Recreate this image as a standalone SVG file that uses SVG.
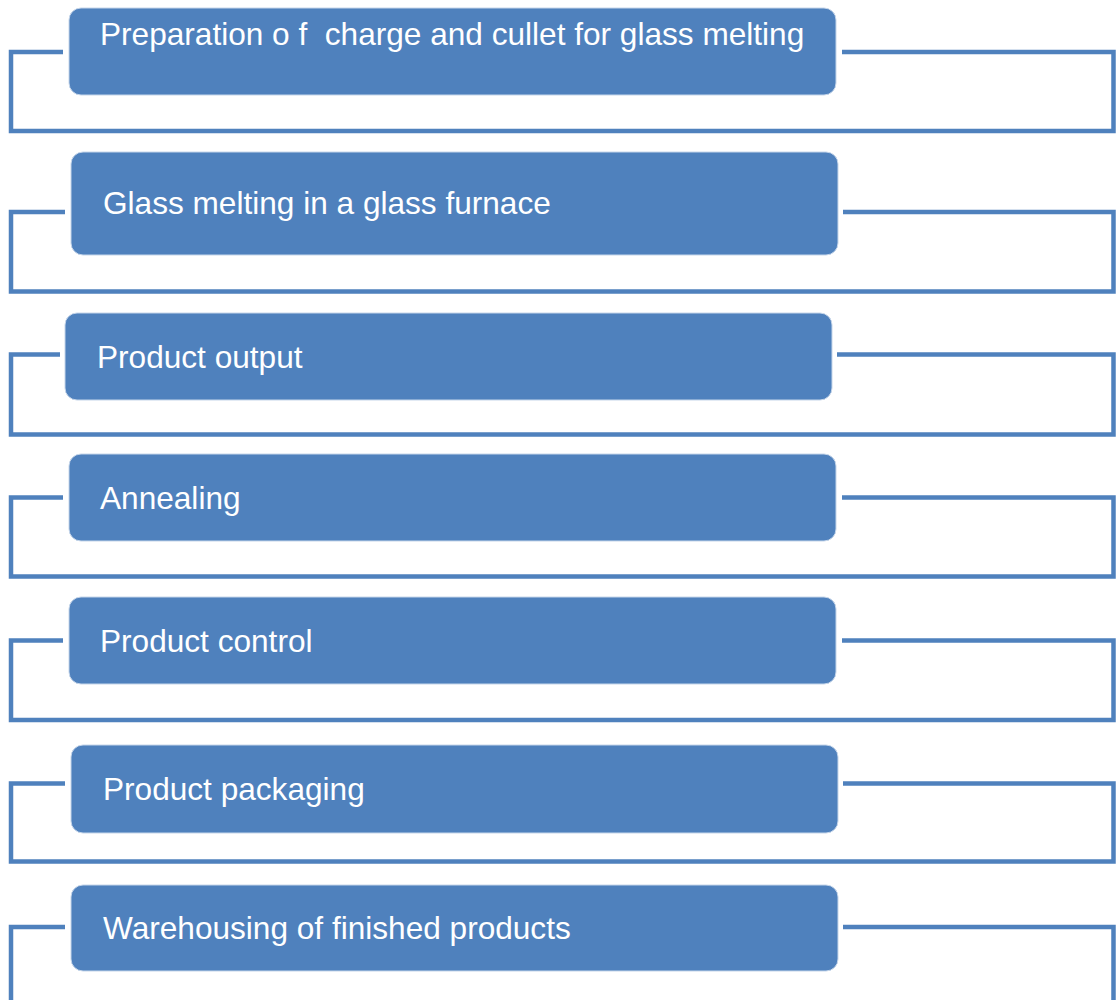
<svg xmlns="http://www.w3.org/2000/svg" width="1116" height="1000" viewBox="0 0 1116 1000">
  <style>
    .step { fill: #4f81bd; stroke: #c6d6ea; stroke-width: 1; }
    .label { fill: #ffffff; font-family: "Liberation Sans", Arial, sans-serif; font-size: 31.6px; white-space: pre; }
    .link { fill: none; stroke: #4f81bd; stroke-width: 4.5; stroke-linejoin: miter; }
  </style>
  <rect width="1116" height="1000" fill="#ffffff"/>

  <!-- bracket connectors around each process step -->
  <g id="connectors">
    <path class="link" d="M63 52 H11 V131 H1113.5 V52 H842"/>
    <path class="link" d="M65 212 H11 V291.5 H1113.5 V212 H843"/>
    <path class="link" d="M60 354.5 H11 V434.5 H1113.5 V354.5 H837"/>
    <path class="link" d="M63 497.5 H11 V576.5 H1113.5 V497.5 H842"/>
    <path class="link" d="M63 640.5 H11 V720 H1113.5 V640.5 H842"/>
    <path class="link" d="M65 783.5 H11 V861.5 H1113.5 V783.5 H843"/>
    <path class="link" d="M65 927 H11 V1010"/>
    <path class="link" d="M843 927 H1113.5 V1010"/>
  </g>

  <g id="step1">
    <rect class="step" x="69" y="8" width="767" height="87" rx="12"/>
    <text class="label" x="100" y="45">Preparation o f  charge and cullet for glass melting</text>
  </g>
  <g id="step2">
    <rect class="step" x="71" y="152" width="767" height="103" rx="12"/>
    <text class="label" x="103" y="214">Glass melting in a glass furnace</text>
  </g>
  <g id="step3">
    <rect class="step" x="65" y="313" width="767" height="87" rx="12"/>
    <text class="label" x="97" y="368">Product output</text>
  </g>
  <g id="step4">
    <rect class="step" x="69" y="454" width="767" height="87" rx="12"/>
    <text class="label" x="100" y="509">Annealing</text>
  </g>
  <g id="step5">
    <rect class="step" x="69" y="597" width="767" height="87" rx="12"/>
    <text class="label" x="100" y="652">Product control</text>
  </g>
  <g id="step6">
    <rect class="step" x="71" y="745" width="767" height="88" rx="12"/>
    <text class="label" x="103" y="800">Product packaging</text>
  </g>
  <g id="step7">
    <rect class="step" x="71" y="885" width="767" height="86" rx="12"/>
    <text class="label" x="103" y="939">Warehousing of finished products</text>
  </g>
</svg>
